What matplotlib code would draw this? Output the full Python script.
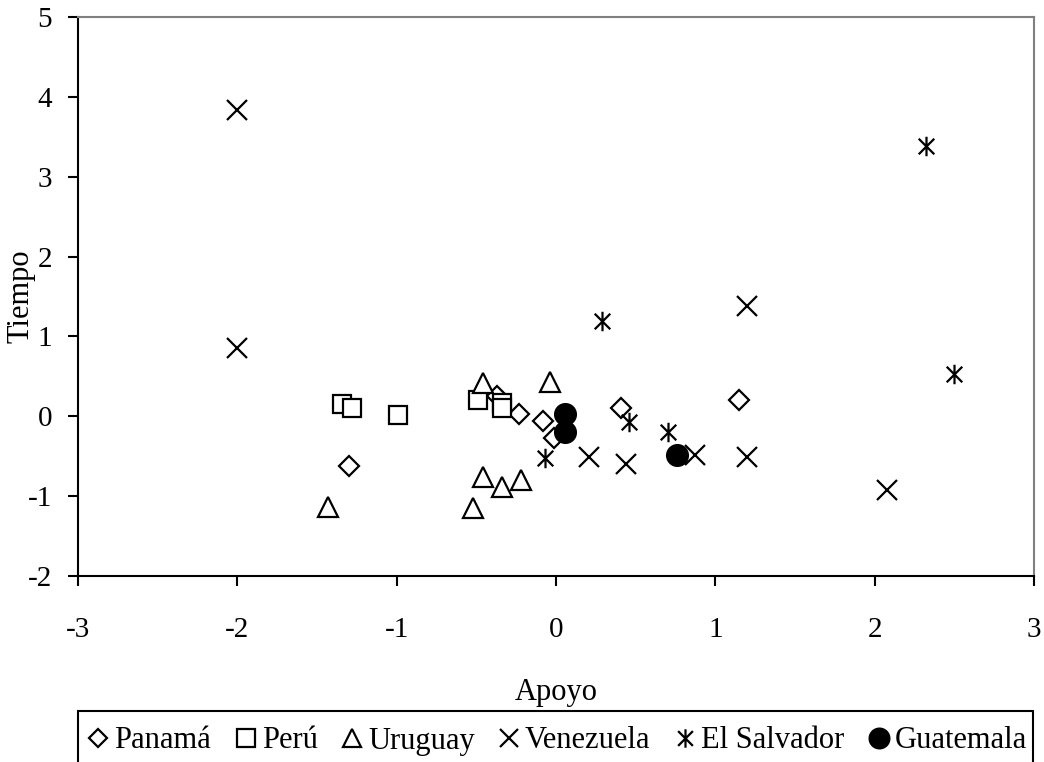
import matplotlib
matplotlib.use("Agg")
import matplotlib.pyplot as plt
from matplotlib.path import Path
from matplotlib.patches import Rectangle

plt.rcParams['font.family'] = ['Liberation Serif', 'DejaVu Serif']
plt.rcParams['axes.unicode_minus'] = False

# data
panama_x = [-1.30, -0.37, -0.235, -0.08, -0.01, 0.41, 1.15]
panama_y = [-0.62, 0.25, 0.03, -0.06, -0.27, 0.11, 0.21]

peru_x = [-1.34, -1.28, -0.99, -0.49, -0.34, -0.34]
peru_y = [0.16, 0.10, 0.02, 0.21, 0.17, 0.11]

uruguay_x = [-1.43, -0.46, -0.34, -0.22, -0.52, -0.46, -0.04]
uruguay_y = [-1.13, -0.76, -0.88, -0.80, -1.15, 0.42, 0.43]

venezuela_x = [-2.00, -2.00, 0.21, 0.44, 0.87, 1.20, 1.20, 2.08]
venezuela_y = [3.83, 0.85, -0.51, -0.60, -0.49, -0.51, 1.38, -0.92]

salvador_x = [0.29, -0.07, 0.46, 0.70, 2.32, 2.50]
salvador_y = [1.19, -0.52, -0.07, -0.20, 3.39, 0.53]

guatemala_x = [0.058, 0.058, 0.757]
guatemala_y = [0.03, -0.20, -0.48]

# asterisk marker: x with a vertical bar
star = Path([(-1, -1), (1, 1), (-1, 1), (1, -1), (0, -1.25), (0, 1.25)],
            [Path.MOVETO, Path.LINETO, Path.MOVETO, Path.LINETO, Path.MOVETO, Path.LINETO])

fig = plt.figure(figsize=(10.44, 7.62), dpi=100)
ax = fig.add_axes([78/1044, 1-576/762, (1034-78)/1044, (576-17)/762])

ms = dict(linestyle='none', markeredgecolor='black', markeredgewidth=1.6)
ax.plot(panama_x, panama_y, marker='D', markersize=10, markerfacecolor='white', label='Panamá', **ms)
ax.plot(peru_x, peru_y, marker='s', markersize=13, markerfacecolor='white', label='Perú', **ms)
ax.plot(uruguay_x, uruguay_y, marker='^', markersize=14, markerfacecolor='white', label='Uruguay', **ms)
ax.plot(venezuela_x, venezuela_y, marker='x', markersize=14, label='Venezuela', **ms)
ax.plot(salvador_x, salvador_y, marker=star, markersize=14, label='El Salvador', **ms)
ax.plot(guatemala_x, guatemala_y, marker='o', markersize=15, markerfacecolor='black', label='Guatemala', **ms)

ax.set_xlim(-3, 3)
ax.set_ylim(-2, 5)
ax.set_xticks(range(-3, 4))
ax.set_yticks(range(-2, 6))
ax.tick_params(direction='out', length=7.5, width=1.5, labelsize=21, pad=11)
ax.tick_params(axis='x', pad=22)
for s in ['left', 'bottom']:
    ax.spines[s].set_linewidth(1.5)
    ax.spines[s].set_color('black')
for s in ['top', 'right']:
    ax.spines[s].set_linewidth(1.5)
    ax.spines[s].set_color('#808080')

ax.set_xlabel('Apoyo', fontsize=22, labelpad=25)
fig.text(21/1044, 1-296/762, 'Tiempo', fontsize=22, rotation=90, ha='center', va='center')

fig.patches.append(Rectangle((78/1044, -0.05), (1033-78)/1044, 0.05 + 1-711/762,
                             transform=fig.transFigure, fill=False,
                             edgecolor='black', linewidth=1.5))
leg = fig.legend(loc='center', bbox_to_anchor=(0.5335, 1-741/762), ncol=6,
                 frameon=False, fontsize=22, markerscale=0.95,
                 handlelength=0.75, handletextpad=0.15, columnspacing=0.75)

fig.savefig('out.png', dpi=100)
